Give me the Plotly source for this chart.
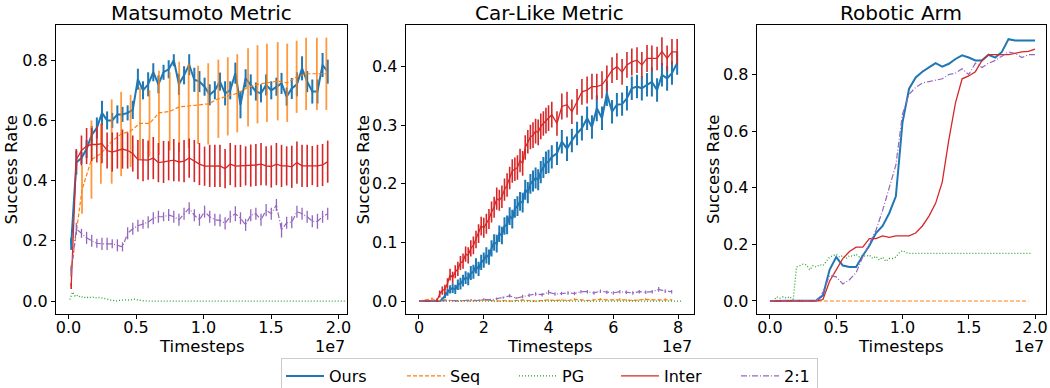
import numpy as np
import plotly.graph_objects as go

BLUE = "#1f77b4"; ORANGE = "#ff7f0e"; GREEN = "#2ca02c"; RED = "#d62728"; PURPLE = "#9467bd"
FONT = "DejaVu Sans"

# ---------------- Panel 1: Matsumoto Metric (x in 1e7 timesteps) ----------------
m_x = np.round(0.02 + 0.038 * np.arange(51), 3)
m_ours = [0.19, 0.46, 0.475, 0.505, 0.552, 0.575, 0.625, 0.60, 0.60, 0.62,
          0.62, 0.625, 0.635, 0.737, 0.70, 0.72, 0.76, 0.72, 0.76, 0.77,
          0.80, 0.72, 0.75, 0.785, 0.735, 0.729, 0.712, 0.685, 0.70, 0.729,
          0.69, 0.70, 0.757, 0.652, 0.74, 0.718, 0.696, 0.69, 0.718, 0.70,
          0.712, 0.723, 0.679, 0.706, 0.72, 0.773, 0.729, 0.696, 0.696, 0.784,
          0.762]
m_ours_err = [0.02, 0.04, 0.02, 0.03, 0.03, 0.035, 0.04, 0.03, 0.025, 0.03,
              0.025, 0.025, 0.03, 0.035, 0.03, 0.04, 0.03, 0.03, 0.025, 0.03,
              0.02, 0.035, 0.03, 0.035, 0.04, 0.035, 0.03, 0.035, 0.03, 0.03,
              0.04, 0.03, 0.035, 0.045, 0.03, 0.035, 0.03, 0.03, 0.035, 0.03,
              0.03, 0.035, 0.03, 0.035, 0.04, 0.04, 0.035, 0.04, 0.04, 0.04,
              0.04]
m_inter = [0.05, 0.47, 0.50, 0.515, 0.52, 0.52, 0.523, 0.50, 0.495, 0.50,
           0.505, 0.50, 0.49, 0.47, 0.468, 0.468, 0.475, 0.46, 0.462, 0.466,
           0.468, 0.462, 0.465, 0.475, 0.465, 0.455, 0.448, 0.449, 0.449, 0.449,
           0.44, 0.455, 0.448, 0.449, 0.449, 0.45, 0.452, 0.455, 0.449, 0.447,
           0.455, 0.449, 0.449, 0.446, 0.46, 0.449, 0.449, 0.45, 0.449, 0.452,
           0.463]
m_inter_err = [0.01, 0.035, 0.05, 0.06, 0.055, 0.06, 0.065, 0.06, 0.065, 0.06,
               0.065, 0.06, 0.06, 0.065, 0.07, 0.065, 0.07, 0.065, 0.07, 0.065,
               0.07, 0.065, 0.07, 0.065, 0.07, 0.07, 0.065, 0.07, 0.07, 0.07,
               0.065, 0.07, 0.07, 0.07, 0.065, 0.07, 0.07, 0.07, 0.065, 0.07,
               0.07, 0.07, 0.065, 0.07, 0.07, 0.07, 0.07, 0.065, 0.07, 0.07,
               0.07]
m_21 = [0.10, 0.24, 0.225, 0.21, 0.20, 0.192, 0.19, 0.19, 0.19, 0.185,
        0.18, 0.225, 0.24, 0.25, 0.255, 0.262, 0.275, 0.28, 0.28, 0.286,
        0.28, 0.27, 0.29, 0.308, 0.285, 0.27, 0.297, 0.28, 0.27, 0.268,
        0.258, 0.28, 0.29, 0.275, 0.253, 0.285, 0.29, 0.27, 0.302, 0.29,
        0.319, 0.236, 0.26, 0.262, 0.297, 0.29, 0.28, 0.265, 0.265, 0.28,
        0.29]
m_21_err = [0.015, 0.02, 0.015, 0.02, 0.02, 0.015, 0.02, 0.02, 0.015, 0.02,
            0.015, 0.02, 0.02, 0.02, 0.015, 0.02, 0.02, 0.02, 0.015, 0.02,
            0.02, 0.02, 0.02, 0.02, 0.02, 0.02, 0.02, 0.02, 0.02, 0.02,
            0.02, 0.02, 0.025, 0.02, 0.02, 0.02, 0.02, 0.02, 0.02, 0.02,
            0.02, 0.025, 0.02, 0.02, 0.02, 0.02, 0.02, 0.02, 0.025, 0.02,
            0.02]
m_seq_x = [0.02, 0.10, 0.17, 0.24, 0.32, 0.39, 0.46, 0.53, 0.60, 0.67,
           0.75, 0.82, 0.89, 0.96, 1.035, 1.11, 1.18, 1.25, 1.33, 1.40,
           1.47, 1.55, 1.62, 1.69, 1.76, 1.84, 1.91]
m_seq = [0.10, 0.37, 0.47, 0.49, 0.53, 0.555, 0.565, 0.59, 0.59, 0.625,
         0.63, 0.645, 0.648, 0.652, 0.655, 0.672, 0.68, 0.69, 0.71, 0.72,
         0.725, 0.73, 0.725, 0.745, 0.755, 0.755, 0.755]
m_seq_err = [0.02, 0.08, 0.13, 0.10, 0.14, 0.14, 0.12, 0.12, 0.11, 0.14,
             0.13, 0.15, 0.14, 0.13, 0.135, 0.13, 0.13, 0.13, 0.13, 0.13,
             0.13, 0.13, 0.13, 0.12, 0.12, 0.12, 0.12]
m_pg_x = [0.01, 0.03, 0.05, 0.07, 0.09, 0.11, 0.13, 0.15, 0.17, 0.19,
          0.21, 0.23, 0.25, 0.27, 0.29, 0.31, 0.33, 0.35, 0.37, 0.39,
          0.41, 0.43, 0.45, 0.47, 0.49, 0.51, 0.53, 0.55, 0.6, 0.8,
          1.0, 1.2, 1.4, 1.6, 1.8, 2.05]
m_pg = [0.005, 0.03, 0.015, 0.02, 0.012, 0.015, 0.01, 0.014, 0.011, 0.013,
        0.01, 0.012, 0.01, 0.008, 0.006, 0.004, 0.002, 0.0, 0.002, 0.003,
        0.002, 0.004, 0.003, 0.005, 0.006, 0.004, 0.002, 0.001, 0.0, 0.0,
        0.0, 0.0, 0.0, 0.0, 0.0, 0.0]

# ---------------- Panel 2: Car-Like Metric ----------------
c_x = list(np.round(0.08 * np.arange(51), 2)) + [
    4.1, 4.26, 4.41, 4.57, 4.72, 4.88, 5.03, 5.19, 5.34, 5.49, 5.65, 5.8, 5.96,
    6.11, 6.27, 6.42, 6.57, 6.73, 6.88, 7.04, 7.19, 7.35, 7.5, 7.66, 7.81, 7.97]
c_ours = [0, 0, 0, 0, 0, 0, 0, 0, 0,
          0.003, 0.01, 0.015, 0.02, 0.022, 0.02, 0.028, 0.03, 0.035, 0.04,
          0.038, 0.048, 0.05, 0.06, 0.055, 0.066, 0.07, 0.078, 0.075, 0.09,
          0.1, 0.098, 0.115, 0.112, 0.128, 0.13, 0.145, 0.14, 0.158, 0.162,
          0.17, 0.168, 0.19, 0.185, 0.2, 0.205, 0.21, 0.207, 0.22, 0.228,
          0.236, 0.238,
          0.246, 0.252, 0.272, 0.26, 0.274, 0.286, 0.295, 0.312, 0.297, 0.329,
          0.312, 0.354, 0.323, 0.335, 0.336, 0.346, 0.363, 0.366, 0.363, 0.369,
          0.374, 0.36, 0.386, 0.38, 0.389, 0.406]
c_ours_err = [0, 0, 0, 0, 0, 0, 0, 0, 0,
              0.003, 0.005, 0.006, 0.007, 0.008, 0.008, 0.009, 0.01, 0.01, 0.011,
              0.011, 0.012, 0.012, 0.013, 0.012, 0.013, 0.013, 0.014, 0.013, 0.014,
              0.014, 0.015, 0.014, 0.015, 0.015, 0.016, 0.015, 0.016, 0.016, 0.017,
              0.016, 0.017, 0.017, 0.018, 0.017, 0.018, 0.018, 0.018, 0.019, 0.018,
              0.019, 0.02,
              0.02, 0.02, 0.02, 0.021, 0.02, 0.02, 0.021, 0.02, 0.02, 0.022,
              0.02, 0.021, 0.02, 0.02, 0.02, 0.021, 0.02, 0.02, 0.021, 0.02,
              0.025, 0.02, 0.02, 0.021, 0.02, 0.02]
c_inter = [0, 0, 0, 0, 0, 0, 0,
           0.002, 0.012, 0.018, 0.02, 0.03, 0.045, 0.04, 0.05, 0.055, 0.065,
           0.068, 0.08, 0.078, 0.09, 0.095, 0.105, 0.115, 0.128, 0.125, 0.132,
           0.14, 0.152, 0.16, 0.175, 0.172, 0.178, 0.19, 0.198, 0.21, 0.222,
           0.225, 0.228, 0.24, 0.235, 0.262, 0.272, 0.28, 0.283, 0.29, 0.288,
           0.298, 0.303, 0.308, 0.312,
           0.318, 0.303, 0.332, 0.335, 0.323, 0.34, 0.357, 0.36, 0.366, 0.366,
           0.369, 0.38, 0.394, 0.40, 0.391, 0.403, 0.408, 0.411, 0.403, 0.414,
           0.414, 0.414, 0.426, 0.414, 0.425, 0.425]
c_inter_err = [0, 0, 0, 0, 0, 0, 0,
               0.003, 0.006, 0.007, 0.008, 0.009, 0.01, 0.01, 0.011, 0.012, 0.012,
               0.013, 0.013, 0.014, 0.014, 0.015, 0.015, 0.016, 0.016, 0.017, 0.017,
               0.017, 0.018, 0.018, 0.019, 0.018, 0.019, 0.019, 0.02, 0.019, 0.02,
               0.02, 0.021, 0.02, 0.021, 0.021, 0.02, 0.021, 0.022, 0.021, 0.022,
               0.022, 0.021, 0.022, 0.022,
               0.022, 0.021, 0.022, 0.022, 0.021, 0.022, 0.022, 0.023, 0.022, 0.022,
               0.023, 0.022, 0.022, 0.023, 0.022, 0.022, 0.023, 0.022, 0.022, 0.023,
               0.022, 0.02, 0.024, 0.022, 0.022, 0.022]
c_small_x = list(np.round(0.2 * np.arange(40), 1))
c_21 = [0, 0, 0, 0, 0, 0, 0,
        0.001, 0.002, 0.001, 0.003, 0.002, 0.004, 0.006, 0.009, 0.005, 0.008,
        0.01, 0.012, 0.011, 0.015, 0.012, 0.013, 0.014, 0.013, 0.016, 0.016,
        0.014, 0.017, 0.015, 0.014, 0.016, 0.015, 0.014, 0.016, 0.015, 0.016,
        0.02, 0.017, 0.016]
c_21_err = [0, 0, 0, 0, 0, 0, 0,
            0.001, 0.001, 0.001, 0.002, 0.002, 0.002, 0.002, 0.003, 0.002, 0.003,
            0.003, 0.003, 0.003, 0.004, 0.003, 0.003, 0.003, 0.003, 0.003, 0.003,
            0.003, 0.003, 0.003, 0.003, 0.003, 0.003, 0.003, 0.003, 0.003, 0.003,
            0.004, 0.003, 0.003]
c_seq = [0, 0.002, 0.004, 0.001, 0.002, 0.001, 0.0, 0.001, 0.0, 0.001,
         0.002, 0.001, 0.0, 0.001, 0.0, 0.001, 0.002, 0.001, 0.0, 0.001,
         0.002, 0.001, 0.002, 0.001, 0.003, 0.002, 0.001, 0.002, 0.003, 0.002,
         0.002, 0.003, 0.002, 0.001, 0.002, 0.003, 0.002, 0.002, 0.003, 0.002]
c_seq_err = [0, 0.001, 0.002, 0.001, 0.001, 0.001, 0.0, 0.001, 0.0, 0.001,
             0.001, 0.001, 0.0, 0.001, 0.0, 0.001, 0.001, 0.001, 0.0, 0.001,
             0.001, 0.001, 0.001, 0.001, 0.002, 0.001, 0.001, 0.001, 0.002, 0.001,
             0.001, 0.002, 0.001, 0.001, 0.001, 0.002, 0.001, 0.001, 0.002, 0.001]
c_pg_x = [0, 2, 4, 6, 8.1]
c_pg = [0, 0, 0, 0, 0]

# ---------------- Panel 3: Robotic Arm ----------------
r_x = np.round(0.05 * np.arange(41), 2)
r_ours = [0, 0, 0, 0, 0, 0, 0, 0.002, 0.02, 0.11,
          0.155, 0.125, 0.12, 0.12, 0.16, 0.195, 0.24, 0.265, 0.31, 0.37,
          0.63, 0.75, 0.79, 0.81, 0.825, 0.84, 0.828, 0.838, 0.855, 0.868,
          0.86, 0.85, 0.85, 0.87, 0.86, 0.88, 0.925, 0.92, 0.92, 0.92,
          0.92]
r_inter = [0, 0, 0, 0, 0, 0, 0, 0, 0.005, 0.07,
           0.11, 0.15, 0.175, 0.19, 0.19, 0.22, 0.22, 0.23, 0.225, 0.23,
           0.23, 0.23, 0.24, 0.265, 0.30, 0.345, 0.42, 0.57, 0.70, 0.785,
           0.795, 0.81, 0.85, 0.87, 0.87, 0.87, 0.87, 0.875, 0.88, 0.882,
           0.89]
r_21 = [0, 0, 0, 0, 0, 0, 0, 0, 0.03, 0.09,
        0.085, 0.06, 0.075, 0.10, 0.155, 0.20, 0.25, 0.32, 0.40, 0.48,
        0.66, 0.73, 0.755, 0.77, 0.775, 0.78, 0.785, 0.80, 0.805, 0.82,
        0.80, 0.84, 0.825, 0.84, 0.85, 0.865, 0.88, 0.875, 0.86, 0.87,
        0.87]
r_pg_x = [0.0, 0.025, 0.05, 0.075, 0.10, 0.125, 0.15, 0.175, 0.20, 0.225,
          0.25, 0.275, 0.30, 0.325, 0.35, 0.375, 0.40, 0.425, 0.45, 0.475,
          0.50, 0.525, 0.55, 0.575, 0.60, 0.625, 0.65, 0.675, 0.70, 0.725,
          0.75, 0.775, 0.80, 0.825, 0.85, 0.875, 0.90, 0.925, 0.95, 0.975,
          1.00, 1.025, 1.05, 1.5, 1.97]
r_pg = [0, 0.0, 0.015, 0.01, 0.015, 0.01, 0.015, 0.0, 0.12, 0.125,
        0.13, 0.128, 0.11, 0.125, 0.12, 0.128, 0.125, 0.14, 0.155, 0.16,
        0.165, 0.155, 0.16, 0.15, 0.16, 0.158, 0.165, 0.155, 0.16, 0.158,
        0.162, 0.15, 0.158, 0.145, 0.155, 0.14, 0.15, 0.15, 0.155, 0.17,
        0.178, 0.172, 0.168, 0.168, 0.168]
r_seq_x = [0.0, 0.5, 1.0, 1.5, 1.95]
r_seq = [0, 0, 0, 0, 0]

SERIES = ["Ours", "Seq", "PG", "Inter", "2:1"]
LEGEND_W = {"Ours": 68, "Seq": 59, "PG": 49, "Inter": 67, "2:1": 28}

fig = go.Figure()


def add(ax, name, x, y, color, dash, width, err=None, errw=1.5, show=False, errcolor=None):
    kw = {}
    if err is not None:
        kw["error_y"] = dict(type="data", array=err, color=errcolor or color,
                             thickness=errw, width=0)
    fig.add_trace(go.Scatter(
        x=x, y=y, mode="lines", name=name, legendgroup=name, showlegend=show,
        legendwidth=LEGEND_W[name],
        line=dict(color=color, width=width, dash=dash),
        xaxis="x" + ax, yaxis="y" + ax, **kw))


SEQ_DASH = "4px,2px"
PG_DASH = "1px,2px"
DD_DASH = "6px,2px,1px,2px"
SEQ_ERR = "rgba(255,127,14,0.8)"

# panel 1
add("", "Ours", m_x, m_ours, BLUE, "solid", 2, m_ours_err, 2, True)
add("", "Seq", m_seq_x, m_seq, ORANGE, SEQ_DASH, 1.2, m_seq_err, 1.8, True, SEQ_ERR)
add("", "PG", m_pg_x, m_pg, GREEN, PG_DASH, 1.3, None, 1, True)
add("", "Inter", m_x, m_inter, RED, "solid", 1.3, m_inter_err, 1.6, True)
add("", "2:1", m_x, m_21, PURPLE, DD_DASH, 1.2, m_21_err, 1.3, True)
# panel 2
add("2", "Ours", c_x, c_ours, BLUE, "solid", 2, c_ours_err, 2)
add("2", "Seq", c_small_x, c_seq, ORANGE, SEQ_DASH, 1.2, c_seq_err, 1.2)
add("2", "PG", c_pg_x, c_pg, GREEN, PG_DASH, 1.3)
add("2", "Inter", c_x, c_inter, RED, "solid", 1.3, c_inter_err, 1.6)
add("2", "2:1", c_small_x, c_21, PURPLE, DD_DASH, 1.2, c_21_err, 1.2)
# panel 3
add("3", "Ours", r_x, r_ours, BLUE, "solid", 2)
add("3", "Seq", r_seq_x, r_seq, ORANGE, SEQ_DASH, 1.2)
add("3", "PG", r_pg_x, r_pg, GREEN, PG_DASH, 1.3)
add("3", "Inter", r_x, r_inter, RED, "solid", 1.3)
add("3", "2:1", r_x, r_21, PURPLE, DD_DASH, 1.2)

W, H = 1050, 388
top_px, bot_px = 25, 314
ydom = [(H - bot_px) / H, (H - top_px) / H]
panels = [
    dict(l=56, r=347, xr=[-0.0926, 2.063], yr=[-0.043, 0.917], xdt=0.5, ydt=0.2,
         xfmt=".1f", title="Matsumoto Metric", ylab_x=11),
    dict(l=405.7, r=694, xr=[-0.41, 8.49], yr=[-0.022, 0.471], xdt=2, ydt=0.1,
         xfmt="d", title="Car-Like Metric", ylab_x=363),
    dict(l=756.7, r=1046, xr=[-0.1, 2.083], yr=[-0.046, 0.975], xdt=0.5, ydt=0.2,
         xfmt=".1f", title="Robotic Arm", ylab_x=713.5),
]

axis_common = dict(showgrid=False, zeroline=False, showline=True, mirror=True,
                   linecolor="black", linewidth=1, ticks="outside", ticklen=4,
                   tickwidth=1, tickcolor="black", automargin=False,
                   tickfont=dict(family=FONT, size=16, color="black"))
annotations = []
layout = {}
for i, p in enumerate(panels):
    s = "" if i == 0 else str(i + 1)
    layout["xaxis" + s] = dict(domain=[p["l"] / W, p["r"] / W], range=p["xr"],
                              anchor="y" + s, tick0=0, dtick=p["xdt"],
                              tickformat=p["xfmt"], **axis_common)
    layout["yaxis" + s] = dict(domain=ydom, range=p["yr"], anchor="x" + s,
                              tick0=0, dtick=p["ydt"], tickformat=".1f", **axis_common)
    cx = (p["l"] + p["r"]) / 2
    annotations.append(dict(text=p["title"], x=cx / W, y=(H - 13) / H, xref="paper",
                            yref="paper", xanchor="center", yanchor="middle",
                            showarrow=False, font=dict(family=FONT, size=20, color="black")))
    annotations.append(dict(text="Success Rate", x=p["ylab_x"] / W,
                            y=(H - (top_px + bot_px) / 2) / H, xref="paper", yref="paper",
                            xanchor="center", yanchor="middle", textangle=-90,
                            showarrow=False, font=dict(family=FONT, size=16.5, color="black")))
    annotations.append(dict(text="Timesteps", x=cx / W, y=(H - 346) / H, xref="paper",
                            yref="paper", xanchor="center", yanchor="middle",
                            showarrow=False, font=dict(family=FONT, size=16.5, color="black")))
    annotations.append(dict(text="1e7", x=p["r"] / W, y=(H - 346) / H, xref="paper",
                            yref="paper", xanchor="right", yanchor="middle",
                            showarrow=False, font=dict(family=FONT, size=16, color="black")))

fig.update_layout(
    width=W, height=H, margin=dict(l=0, r=0, t=0, b=0, autoexpand=False),
    paper_bgcolor="white", plot_bgcolor="white",
    font=dict(family=FONT, size=16, color="black"),
    annotations=annotations,
    legend=dict(orientation="h", x=281 / W, xanchor="left", y=(H - 358) / H,
                yanchor="top", bordercolor="#cccccc", borderwidth=1,
                bgcolor="white", itemwidth=38,
                font=dict(family=FONT, size=16, color="black")),
    **layout,
)

try:
    fig.update_xaxes(ticklabelstandoff=-5)
except Exception:
    pass

fig.write_html("out.html",
               config={"displayModeBar": False},
               post_script="document.documentElement.style.margin='0';"
                           "document.body.style.margin='0';"
                           "document.body.style.overflow='hidden';")
